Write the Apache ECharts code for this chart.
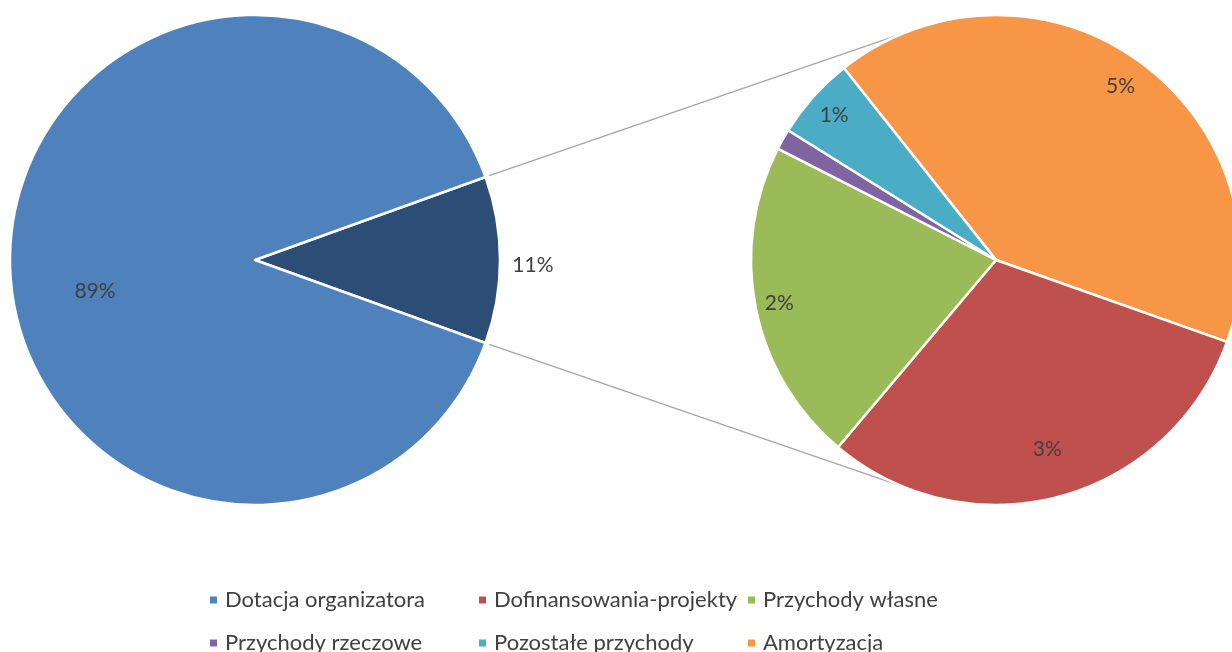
<!DOCTYPE html>
<html>
<head>
<meta charset="utf-8">
<script src="https://cdn.jsdelivr.net/npm/echarts@6/dist/echarts.min.js"></script>
<style>
  html, body { margin: 0; padding: 0; background: #fff; }
  #chart { width: 1232px; height: 652px; }
</style>
</head>
<body>
<div id="chart"></div>
<script>
// udział w przychodach (% całości)
const names = ['Dotacja organizatora', 'Dofinansowania-projekty', 'Przychody własne',
  'Przychody rzeczowe', 'Pozostałe przychody', 'Amortyzacja']
const values = [89.0, 3.38, 2.35, 0.15, 0.60, 4.52]
const colors = ['#4F81BD', '#C0504D', '#9BBB59', '#8064A2', '#4BACC6', '#F79646']
// kolejność wycinków w drugim kole (zgodnie z ruchem wskazówek)
const splitOrder = [5, 1, 2, 3, 4]
const otherName = 'Inne'

const total = values.reduce((a, b) => a + b, 0)
const otherValue = splitOrder.reduce((s, i) => s + values[i], 0)

// układ
const R = 245
const leftCenter = [255, 260]
const rightCenter = [996, 260]
const leftStart = otherValue / total * 180
const rightStart = 128.4
const textColor = '#404040'
const font = 'Lato'

const leftData = [
  { name: otherName, value: otherValue, itemStyle: { color: '#2C4D75' } },
  { name: names[0], value: values[0], itemStyle: { color: colors[0] } }
]
const rightData = splitOrder.map(i => ({ name: names[i], value: values[i], itemStyle: { color: colors[i] } }))

// pozycje etykiet (odległość od środka, korekta kąta)
const leftLabelDist = [278, 163]
const leftLabelTurn = [-1, 11]
const rightLabelDist = [214, 196, 221, 0, 217]

function midAngle(data, start, idx) {
  let sum = 0, cum = 0
  data.forEach((d, i) => { sum += d.value; if (i < idx) cum += d.value })
  return start - (cum + data[idx].value / 2) / sum * 360
}

function polar(c, d, deg) {
  const a = deg * Math.PI / 180
  return [c[0] + d * Math.cos(a), c[1] - d * Math.sin(a)]
}

function pctLabel(p) {
  const pct = Math.round(p.value / total * 100)
  return pct > 0 ? pct + '%' : ''
}

const p1 = polar(leftCenter, R + 4, leftStart)
const p2 = polar(leftCenter, R + 4, -leftStart)
const q1 = polar(rightCenter, R, 112.5)
const q2 = polar(rightCenter, R, -112.5)

const chart = echarts.init(document.getElementById('chart'))
const labelBase = { show: true, position: 'inside', formatter: pctLabel, color: textColor, fontFamily: font, fontSize: 21 }

const legendBase = {
  left: 203,
  icon: 'rect',
  itemWidth: 9,
  itemHeight: 9,
  itemGap: 0,
  textStyle: { color: textColor, fontFamily: font, fontSize: 22, lineHeight: 22, width: 252, padding: [0, 0, 0, 2] }
}

chart.setOption({
  animation: false,
  color: colors,
  legend: [
    Object.assign({ top: 584, data: names.slice(0, 3) }, legendBase),
    Object.assign({ top: 627, data: names.slice(3, 6) }, legendBase)
  ],
  graphic: [
    { type: 'line', z: 0, shape: { x1: p1[0], y1: p1[1], x2: q1[0], y2: q1[1] }, style: { stroke: '#A6A6A6', lineWidth: 1.5 } },
    { type: 'line', z: 0, shape: { x1: p2[0], y1: p2[1], x2: q2[0], y2: q2[1] }, style: { stroke: '#A6A6A6', lineWidth: 1.5 } }
  ],
  series: [
    {
      type: 'pie',
      center: leftCenter,
      radius: [0, R],
      startAngle: leftStart,
      clockwise: true,
      avoidLabelOverlap: false,
      itemStyle: { borderColor: '#fff', borderWidth: 2.5 },
      label: labelBase,
      labelLine: { show: false },
      emphasis: { scale: false },
      labelLayout: p => {
        const a = midAngle(leftData, leftStart, p.dataIndex) + leftLabelTurn[p.dataIndex]
        const pt = polar(leftCenter, leftLabelDist[p.dataIndex], a)
        return { x: pt[0], y: pt[1], align: 'center', verticalAlign: 'middle' }
      },
      data: leftData
    },
    {
      type: 'pie',
      center: rightCenter,
      radius: [0, R],
      startAngle: rightStart,
      clockwise: true,
      avoidLabelOverlap: false,
      itemStyle: { borderColor: '#fff', borderWidth: 2.5 },
      label: labelBase,
      labelLine: { show: false },
      emphasis: { scale: false },
      labelLayout: p => {
        const a = midAngle(rightData, rightStart, p.dataIndex)
        const pt = polar(rightCenter, rightLabelDist[p.dataIndex], a)
        return { x: pt[0], y: pt[1], align: 'center', verticalAlign: 'middle' }
      },
      data: rightData
    }
  ]
})
</script>
</body>
</html>
